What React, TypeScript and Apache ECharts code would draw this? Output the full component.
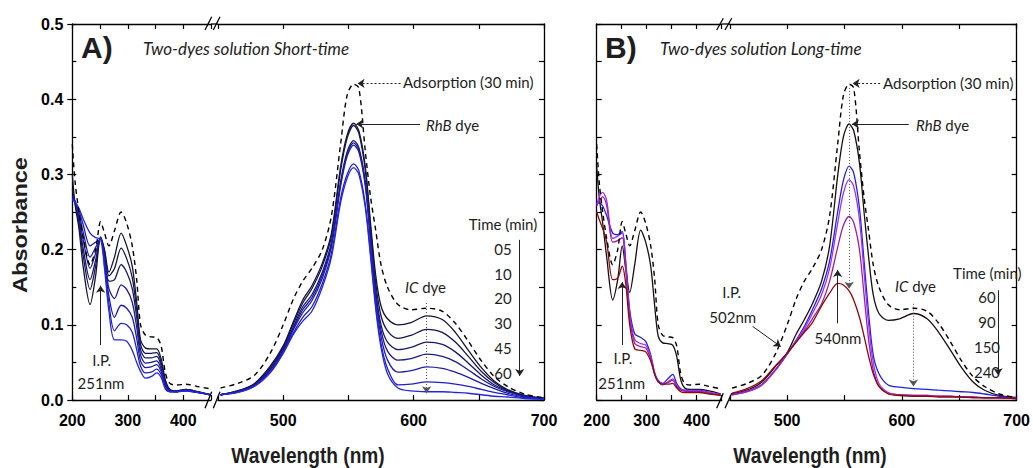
import React, { useEffect, useRef } from 'react';
import * as echarts from 'echarts';

// Wavelength grids (nm) for the two segments of the broken axis
const WL_L = [200, 205, 212, 220, 232, 242, 251, 258, 266, 276, 288, 298, 308, 316, 323, 332, 342, 352, 360, 368, 376, 388, 405, 425, 448];
const WL_R = [452, 465, 478, 490, 500, 508, 515, 522, 530, 537, 544, 549, 554, 558, 563, 567, 571, 575, 580, 588, 598, 610, 622, 632, 642, 652, 662, 672, 685, 700];

// Adsorption (30 min), dashed, both panels
const ADS_L = [0.34, 0.29, 0.25, 0.215, 0.18, 0.2, 0.237, 0.222, 0.205, 0.225, 0.25, 0.235, 0.205, 0.16, 0.1, 0.086, 0.084, 0.083, 0.072, 0.035, 0.022, 0.02, 0.021, 0.018, 0.015];
const ADS_R = [0.016, 0.022, 0.033, 0.062, 0.1, 0.135, 0.158, 0.175, 0.2, 0.245, 0.34, 0.405, 0.42, 0.415, 0.33, 0.27, 0.225, 0.18, 0.15, 0.127, 0.12, 0.122, 0.118, 0.102, 0.078, 0.052, 0.031, 0.018, 0.008, 0.003];

// Panel A: short-time curves (dark -> bright blue)
const A_L0 = [0.3, 0.26, 0.228, 0.175, 0.127, 0.165, 0.217, 0.2, 0.17, 0.19, 0.222, 0.205, 0.178, 0.13, 0.08, 0.069, 0.068, 0.068, 0.055, 0.026, 0.014, 0.012, 0.014, 0.011, 0.007];
const A_L1 = [0.28, 0.262, 0.235, 0.19, 0.147, 0.178, 0.216, 0.198, 0.165, 0.175, 0.202, 0.188, 0.163, 0.12, 0.074, 0.062, 0.062, 0.063, 0.05, 0.024, 0.013, 0.012, 0.014, 0.011, 0.007];
const A_L2 = [0.272, 0.263, 0.24, 0.2, 0.16, 0.186, 0.216, 0.195, 0.158, 0.16, 0.18, 0.17, 0.148, 0.11, 0.067, 0.056, 0.056, 0.058, 0.046, 0.022, 0.013, 0.012, 0.013, 0.011, 0.007];
const A_L3 = [0.27, 0.264, 0.244, 0.212, 0.175, 0.195, 0.215, 0.19, 0.148, 0.135, 0.153, 0.147, 0.13, 0.097, 0.06, 0.049, 0.05, 0.052, 0.042, 0.02, 0.012, 0.011, 0.013, 0.01, 0.007];
const A_L4 = [0.268, 0.264, 0.248, 0.222, 0.19, 0.203, 0.215, 0.185, 0.138, 0.11, 0.126, 0.122, 0.11, 0.082, 0.052, 0.043, 0.044, 0.047, 0.038, 0.018, 0.012, 0.011, 0.013, 0.01, 0.007];
const A_L5 = [0.267, 0.264, 0.252, 0.232, 0.205, 0.21, 0.214, 0.18, 0.128, 0.092, 0.102, 0.1, 0.09, 0.067, 0.045, 0.036, 0.037, 0.041, 0.034, 0.016, 0.011, 0.011, 0.012, 0.01, 0.007];
const A_L6 = [0.266, 0.263, 0.255, 0.24, 0.222, 0.216, 0.214, 0.175, 0.118, 0.08, 0.08, 0.078, 0.066, 0.05, 0.038, 0.029, 0.031, 0.036, 0.03, 0.014, 0.011, 0.011, 0.012, 0.01, 0.007];

const A_R0 = [0.007, 0.012, 0.022, 0.045, 0.072, 0.105, 0.133, 0.152, 0.182, 0.222, 0.31, 0.352, 0.368, 0.358, 0.31, 0.235, 0.165, 0.125, 0.108, 0.1, 0.103, 0.112, 0.107, 0.09, 0.066, 0.043, 0.025, 0.014, 0.006, 0.002];
const A_R1 = [0.007, 0.012, 0.021, 0.043, 0.07, 0.102, 0.129, 0.148, 0.178, 0.218, 0.305, 0.348, 0.365, 0.355, 0.305, 0.228, 0.155, 0.112, 0.092, 0.082, 0.086, 0.094, 0.09, 0.077, 0.058, 0.038, 0.023, 0.013, 0.006, 0.002];
const A_R2 = [0.007, 0.011, 0.02, 0.041, 0.068, 0.098, 0.124, 0.14, 0.17, 0.21, 0.29, 0.33, 0.345, 0.336, 0.29, 0.218, 0.145, 0.1, 0.077, 0.067, 0.07, 0.077, 0.074, 0.064, 0.049, 0.033, 0.02, 0.012, 0.005, 0.002];
const A_R3 = [0.007, 0.011, 0.02, 0.04, 0.066, 0.096, 0.12, 0.136, 0.166, 0.207, 0.287, 0.327, 0.342, 0.333, 0.287, 0.214, 0.14, 0.093, 0.065, 0.053, 0.055, 0.061, 0.058, 0.051, 0.04, 0.028, 0.018, 0.011, 0.005, 0.002];
const A_R4 = [0.007, 0.011, 0.019, 0.039, 0.065, 0.094, 0.116, 0.132, 0.162, 0.204, 0.284, 0.324, 0.339, 0.33, 0.284, 0.21, 0.135, 0.085, 0.053, 0.037, 0.039, 0.044, 0.042, 0.037, 0.03, 0.022, 0.015, 0.009, 0.004, 0.002];
const A_R5 = [0.007, 0.01, 0.019, 0.037, 0.063, 0.09, 0.11, 0.124, 0.155, 0.195, 0.268, 0.3, 0.314, 0.305, 0.26, 0.195, 0.125, 0.075, 0.042, 0.02, 0.021, 0.024, 0.023, 0.021, 0.018, 0.014, 0.01, 0.007, 0.003, 0.001];
const A_R6 = [0.007, 0.01, 0.018, 0.036, 0.062, 0.088, 0.105, 0.118, 0.15, 0.19, 0.262, 0.295, 0.309, 0.3, 0.255, 0.19, 0.12, 0.07, 0.035, 0.016, 0.012, 0.011, 0.011, 0.01, 0.009, 0.007, 0.005, 0.004, 0.002, 0.001];

// Panel B: long-time curves
const B_LK = [0.31, 0.27, 0.235, 0.19, 0.133, 0.16, 0.205, 0.175, 0.143, 0.18, 0.226, 0.21, 0.178, 0.125, 0.085, 0.076, 0.075, 0.073, 0.058, 0.027, 0.016, 0.014, 0.014, 0.012, 0.008];
const B_LB = [0.262, 0.262, 0.258, 0.245, 0.222, 0.22, 0.224, 0.185, 0.12, 0.088, 0.083, 0.078, 0.06, 0.036, 0.026, 0.022, 0.028, 0.034, 0.022, 0.015, 0.013, 0.013, 0.013, 0.01, 0.007];
const B_LV = [0.26, 0.27, 0.276, 0.265, 0.215, 0.218, 0.222, 0.18, 0.115, 0.08, 0.075, 0.073, 0.058, 0.035, 0.025, 0.021, 0.024, 0.028, 0.019, 0.014, 0.012, 0.012, 0.012, 0.01, 0.007];
const B_LP = [0.258, 0.265, 0.27, 0.258, 0.21, 0.212, 0.216, 0.175, 0.11, 0.075, 0.071, 0.069, 0.055, 0.034, 0.024, 0.02, 0.023, 0.026, 0.018, 0.013, 0.012, 0.011, 0.011, 0.009, 0.007];
const B_LR = [0.25, 0.24, 0.228, 0.21, 0.16, 0.162, 0.178, 0.155, 0.1, 0.068, 0.066, 0.064, 0.052, 0.034, 0.024, 0.021, 0.021, 0.022, 0.016, 0.011, 0.01, 0.01, 0.01, 0.008, 0.006];

const B_RK = [0.008, 0.013, 0.024, 0.045, 0.063, 0.088, 0.107, 0.128, 0.158, 0.205, 0.298, 0.35, 0.367, 0.358, 0.315, 0.25, 0.19, 0.14, 0.115, 0.106, 0.108, 0.115, 0.108, 0.09, 0.067, 0.043, 0.024, 0.013, 0.006, 0.003];
const B_RB = [0.007, 0.011, 0.02, 0.04, 0.061, 0.08, 0.098, 0.12, 0.148, 0.185, 0.25, 0.292, 0.311, 0.302, 0.255, 0.185, 0.115, 0.06, 0.035, 0.02, 0.017, 0.015, 0.014, 0.013, 0.012, 0.011, 0.01, 0.008, 0.005, 0.003];
const B_RV = [0.007, 0.011, 0.02, 0.04, 0.061, 0.079, 0.095, 0.115, 0.14, 0.175, 0.235, 0.275, 0.293, 0.284, 0.24, 0.17, 0.1, 0.05, 0.022, 0.01, 0.007, 0.006, 0.006, 0.005, 0.005, 0.004, 0.004, 0.003, 0.003, 0.002];
const B_RP = [0.007, 0.012, 0.021, 0.041, 0.062, 0.078, 0.092, 0.108, 0.128, 0.158, 0.203, 0.232, 0.244, 0.236, 0.2, 0.14, 0.08, 0.04, 0.018, 0.009, 0.007, 0.006, 0.006, 0.005, 0.005, 0.004, 0.004, 0.003, 0.003, 0.002];
const B_RR = [0.009, 0.015, 0.026, 0.046, 0.062, 0.077, 0.09, 0.103, 0.125, 0.142, 0.155, 0.153, 0.145, 0.133, 0.11, 0.085, 0.058, 0.035, 0.018, 0.008, 0.006, 0.005, 0.005, 0.004, 0.004, 0.004, 0.003, 0.003, 0.003, 0.002];

const TIMES_A = ['05', '10', '20', '30', '45', '60'];
const TIMES_B = ['60', '90', '150', '240'];
const X_LABELS = [200, 300, 400, 500, 600, 700];

const A_COLORS = ['#141430', '#15154f', '#181870', '#1b1b8f', '#1d1dab', '#2020c6', '#2626dd'];
const B_COLORS = ['#1a0d0d', '#2020e8', '#9b30ff', '#a0209f', '#8b0a0a'];

const AXIS_FONT = '"Liberation Sans", Arial, sans-serif';
const NOTE_FONT = 'Lato, "Open Sans", sans-serif';

function line(wl: number[], vals: number[], xi: number, yi: number, color: string, dashed = false, extra: any = {}) {
  return {
    type: 'line',
    xAxisIndex: xi,
    yAxisIndex: yi,
    data: wl.map((w, i) => [w, vals[i]]),
    symbol: 'none',
    showSymbol: false,
    smooth: 0.3,
    silent: true,
    clip: true,
    lineStyle: { color, width: dashed ? 1.4 : 1.3, type: dashed ? [5, 4] : 'solid' },
    z: dashed ? 3 : 2,
    ...extra,
  };
}

function arrow(from: number[], to: number[], color = '#222', type: any = 'solid') {
  return [
    { coord: from, symbol: 'none', lineStyle: { color, width: 1, type } },
    { coord: to, symbol: 'arrow', symbolSize: 7 },
  ];
}

function marks(items: any[]) {
  return {
    markLine: {
      silent: true,
      animation: false,
      symbol: ['none', 'arrow'],
      symbolSize: 7,
      label: { show: false },
      emphasis: { disabled: true },
      data: items,
    },
  };
}

function xAxis(grid: number, min: number, max: number, pos: string, labels: boolean) {
  return {
    type: 'value',
    gridIndex: grid,
    position: pos,
    min,
    max,
    interval: 50,
    axisLine: { show: true, onZero: false, lineStyle: { color: '#000', width: 1.3 } },
    axisTick: { show: true, inside: true, length: 5, lineStyle: { color: '#000', width: 1.2 } },
    axisLabel: labels
      ? {
          show: true,
          margin: 12,
          color: '#000',
          fontFamily: AXIS_FONT,
          fontWeight: 'bold',
          fontSize: 16,
          showMinLabel: true,
          showMaxLabel: true,
          formatter: (v: number) => (X_LABELS.indexOf(v) >= 0 && v > min - 1 && v < max + 1 ? String(v) : ''),
        }
      : { show: false },
    splitLine: { show: false },
  };
}

function yAxis(grid: number, pos: string, interval: number, opts: any = {}) {
  return {
    type: 'value',
    gridIndex: grid,
    position: pos,
    min: 0,
    max: 0.5,
    interval,
    axisLine: { show: true, onZero: false, lineStyle: { color: '#000', width: 1.3 } },
    axisTick: { show: true, inside: true, length: 5, lineStyle: { color: '#000', width: 1.2 } },
    axisLabel: { show: false },
    splitLine: { show: false },
    ...opts,
  };
}

function txt(text: string, x: number, y: number, font: string, align = 'left', extra: any = {}) {
  return {
    type: 'text',
    x,
    y,
    z: 100,
    silent: true,
    ...extra,
    style: {
      text,
      font,
      fill: '#1e1e1e',
      align,
      verticalAlign: 'middle',
      textAlign: align,
      textVerticalAlign: 'middle',
      ...(extra.style || {}),
    },
  };
}

function rich(a: string, b: string, x: number, y: number, align = 'left') {
  return {
    type: 'text',
    x,
    y,
    z: 100,
    silent: true,
    style: {
      text: `{i|${a}}{n|${b}}`,
      fill: '#1e1e1e',
      align,
      verticalAlign: 'middle',
      textAlign: align,
      textVerticalAlign: 'middle',
      rich: {
        i: { font: `italic 15px ${NOTE_FONT}`, fill: '#1e1e1e' },
        n: { font: `15px ${NOTE_FONT}`, fill: '#1e1e1e' },
      },
    },
  };
}

function seg(x1: number, y1: number, x2: number, y2: number) {
  return { type: 'line', z: 100, silent: true, shape: { x1, y1, x2, y2 }, style: { stroke: '#000', lineWidth: 1.3 } };
}

export default function App() {
  const ref = useRef<HTMLDivElement>(null);

  useEffect(() => {
    if (!ref.current) return;
    const chart = echarts.init(ref.current, undefined, { renderer: 'svg' });

    const A_L = [A_L0, A_L1, A_L2, A_L3, A_L4, A_L5, A_L6];
    const A_R = [A_R0, A_R1, A_R2, A_R3, A_R4, A_R5, A_R6];
    const B_L = [B_LK, B_LB, B_LV, B_LP, B_LR];
    const B_R = [B_RK, B_RB, B_RV, B_RP, B_RR];

    const series: any[] = [];
    // Panel A left (x0,y0)
    A_L.forEach((v, i) => series.push(line(WL_L, v, 0, 0, A_COLORS[i])));
    series.push(line(WL_L, ADS_L, 0, 0, '#000', true, marks([arrow([251, 0.073], [251, 0.152])])));
    // Panel A right (x2,y2)
    A_R.forEach((v, i) => series.push(line(WL_R, v, 2, 2, A_COLORS[i])));
    series.push(
      line(WL_R, ADS_R, 2, 2, '#000', true, marks([
        arrow([590, 0.421], [557, 0.421], '#222', [2, 2]),
        arrow([605, 0.367], [556, 0.367]),
        arrow([610, 0.129], [610, 0.009], '#555', [1, 2]),
        arrow([681.4, 0.213], [681.4, 0.032]),
      ]))
    );
    // Panel B left (x4,y3)
    B_L.forEach((v, i) => series.push(line(WL_L, v, 4, 3, B_COLORS[i])));
    series.push(line(WL_L, ADS_L, 4, 3, '#000', true, marks([arrow([251, 0.073], [251, 0.157])])));
    // Panel B right (x6,y4)
    B_R.forEach((v, i) => series.push(line(WL_R, v, 6, 4, B_COLORS[i])));
    series.push(
      line(WL_R, ADS_R, 6, 4, '#000', true, marks([
        arrow([581, 0.421], [557, 0.421], '#222', [2, 2]),
        arrow([606, 0.367], [556.5, 0.367]),
        arrow([554, 0.415], [554, 0.148], '#555', [1, 2]),
        arrow([610, 0.128], [610, 0.018], '#555', [1, 2]),
        arrow([544, 0.102], [544, 0.173]),
        arrow([469.8, 0.098], [494.4, 0.071]),
        arrow([683.8, 0.146], [683.8, 0.033]),
      ]))
    );

    const graphic: any[] = [
      // axis titles
      txt('Absorbance', 20, 225, `bold 21px ${AXIS_FONT}`, 'center', { rotation: Math.PI / 2, scaleX: 1.12 }),
      txt('Wavelength (nm)', 308, 455, `bold 22px ${AXIS_FONT}`, 'center', { scaleX: 0.87 }),
      txt('Wavelength (nm)', 810, 455, `bold 22px ${AXIS_FONT}`, 'center', { scaleX: 0.87 }),
      // panel A
      txt('A)', 81, 47.5, `bold 30px ${AXIS_FONT}`),
      txt('Two-dyes solution Short-time', 143, 48.5, `italic 17px ${NOTE_FONT}`),
      txt('Adsorption (30 min)', 403, 82, `15px ${NOTE_FONT}`),
      rich('RhB', ' dye', 426, 125),
      txt('Time (min)', 503, 224, `15px ${NOTE_FONT}`, 'center'),
      ...TIMES_A.map((t, i) => txt(t, 503, 249 + i * 24.7, `15px ${NOTE_FONT}`, 'center')),
      rich('IC', ' dye', 425.5, 287, 'center'),
      txt('I.P.', 101.7, 360, `15px ${NOTE_FONT}`, 'center'),
      txt('251nm', 101, 383, `15px ${NOTE_FONT}`, 'center'),
      // panel B
      txt('B)', 605, 47.5, `bold 30px ${AXIS_FONT}`),
      txt('Two-dyes solution Long-time', 660, 48.5, `italic 17px ${NOTE_FONT}`),
      txt('Adsorption (30 min)', 883, 82.7, `15px ${NOTE_FONT}`),
      rich('RhB', ' dye', 916, 125),
      txt('Time (min)', 987.3, 272.7, `15px ${NOTE_FONT}`, 'center'),
      ...TIMES_B.map((t, i) => txt(t, 987, 296.7 + i * 25, `15px ${NOTE_FONT}`, 'center')),
      rich('IC', ' dye', 915.5, 286, 'center'),
      txt('540nm', 838, 338, `15px ${NOTE_FONT}`, 'center'),
      txt('I.P.', 731.7, 291.7, `15px ${NOTE_FONT}`, 'center'),
      txt('502nm', 732.7, 316.7, `15px ${NOTE_FONT}`, 'center'),
      txt('I.P.', 623, 358, `15px ${NOTE_FONT}`, 'center'),
      txt('251nm', 621.7, 383, `15px ${NOTE_FONT}`, 'center'),
      // axis break marks and top-line gap fills
      seg(211, 24, 218, 24),
      seg(721.7, 24, 729.8, 24),
      seg(205, 30, 211.7, 16.7),
      seg(213.3, 30, 220, 16.7),
      seg(205, 408.3, 211.7, 391.7),
      seg(213.3, 408.3, 220, 391.7),
      seg(716.7, 30, 723.3, 18.3),
      seg(725, 30, 731.7, 18.3),
      seg(716.7, 408.3, 723.3, 393.3),
      seg(725, 408.3, 731.7, 393.3),
    ];

    chart.setOption({
      animation: false,
      backgroundColor: '#fff',
      grid: [
        { left: 72.3, top: 24, width: 138.75, height: 376 },
        { left: 218, top: 24, width: 326, height: 376 },
        { left: 596.7, top: 24, width: 125, height: 376 },
        { left: 729.8, top: 24, width: 292.5, height: 376 },
      ],
      xAxis: [
        xAxis(0, 200, 450, 'bottom', true),
        xAxis(0, 200, 450, 'top', false),
        xAxis(1, 450, 700, 'bottom', true),
        xAxis(1, 450, 700, 'top', false),
        xAxis(2, 200, 450, 'bottom', true),
        xAxis(2, 200, 450, 'top', false),
        xAxis(3, 450, 700, 'bottom', true),
        xAxis(3, 450, 700, 'top', false),
      ],
      yAxis: [
        yAxis(0, 'left', 0.1, {
          axisTick: { show: true, inside: false, length: 5, lineStyle: { color: '#000', width: 1.2 } },
          axisLabel: {
            show: true,
            margin: 9,
            color: '#000',
            fontFamily: AXIS_FONT,
            fontWeight: 'bold',
            fontSize: 16,
            formatter: (v: number) => v.toFixed(1),
          },
        }),
        yAxis(0, 'left', 0.05, { axisLine: { show: false }, axisTick: { show: true, inside: true, length: 4, lineStyle: { color: '#000', width: 1.2 } } }),
        yAxis(1, 'right', 0.05),
        yAxis(2, 'left', 0.05),
        yAxis(3, 'right', 0.05),
      ],
      series,
      graphic,
    });

    return () => chart.dispose();
  }, []);

  return <div ref={ref} style={{ position: 'fixed', left: 0, top: 0, width: 1033, height: 468, background: '#fff' }} />;
}
